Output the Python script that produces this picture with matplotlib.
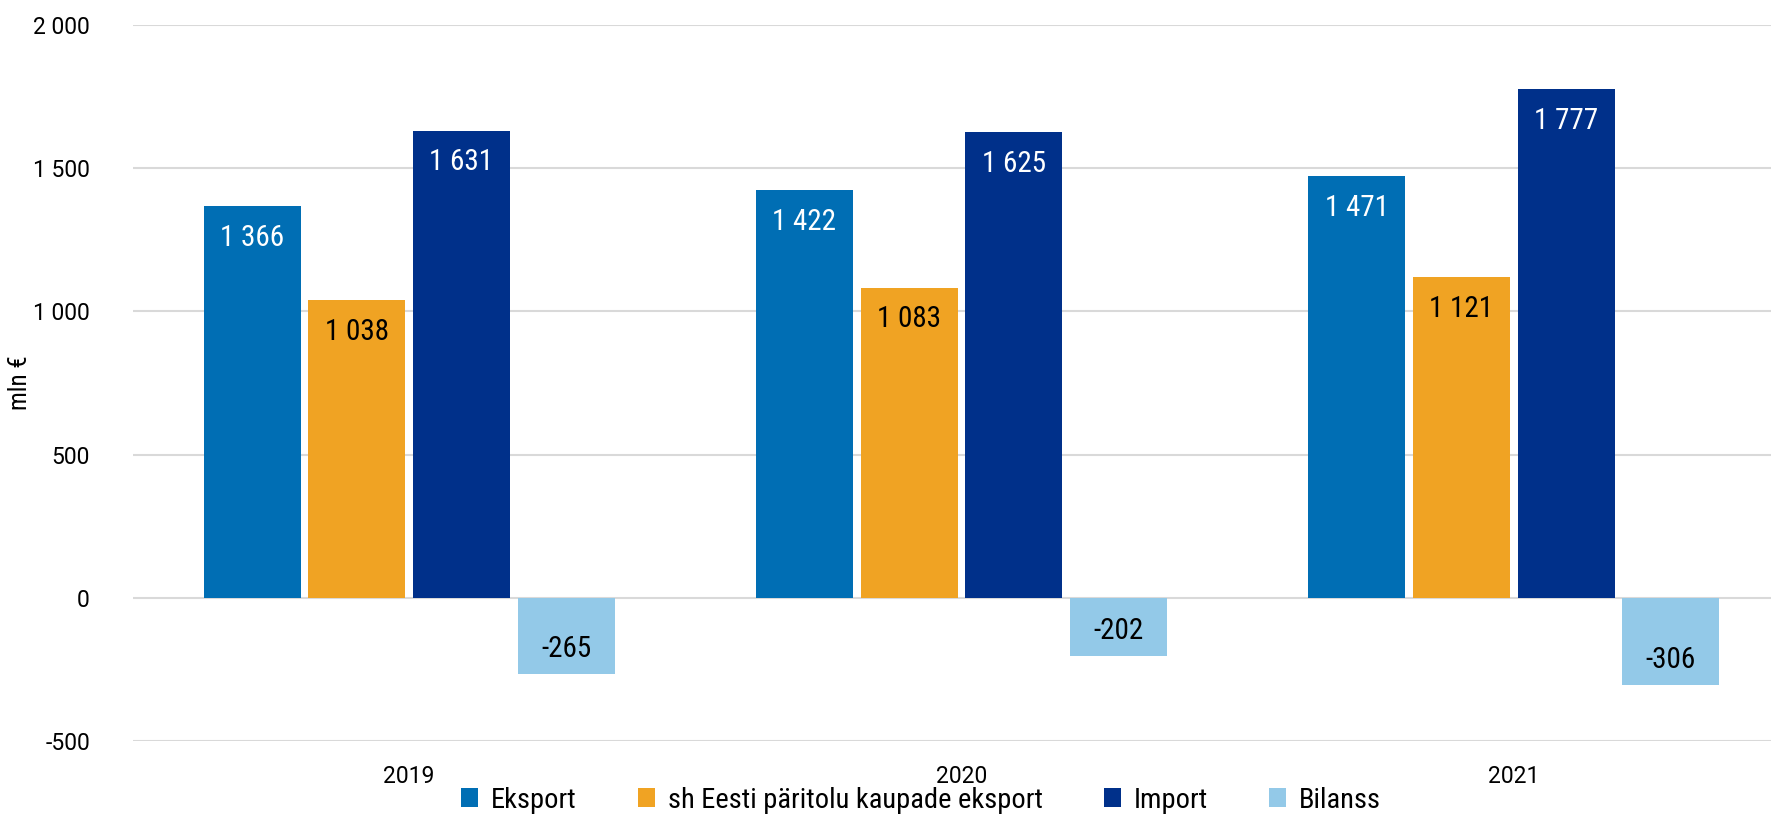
import matplotlib.pyplot as plt
import numpy as np

plt.rcParams["font.family"] = ["Roboto", "DejaVu Sans"]
narrow = ["Roboto Condensed", "Liberation Sans Narrow", "Roboto", "DejaVu Sans"]

years = ["2019", "2020", "2021"]
series = ["Eksport", "sh Eesti päritolu kaupade eksport", "Import", "Bilanss"]
eksport = [1366, 1422, 1471]
eesti = [1038, 1083, 1121]
imp = [1631, 1625, 1777]
bilanss = [-265, -202, -306]

colors = ["#006EB4", "#F0A323", "#00308A", "#93C9E8"]
label_colors = ["white", "black", "white", "black"]

fig = plt.figure(figsize=(17.71, 8.15), dpi=100)
ax = fig.add_axes([133 / 1771, 1 - 741 / 815, (1790 - 133) / 1771, (741 - 24.8) / 815])

x = np.arange(len(years))
step = 0.1895
width = 0.1756

def fmt(v):
    return f"{v:,}".replace(",", " ")

for i, (name, vals) in enumerate(zip(series, [eksport, eesti, imp, bilanss])):
    pos = x + (i - 1.5) * step
    ax.bar(pos, vals, width=width, color=colors[i], label=name, zorder=2)
    for p, v in zip(pos, vals):
        off = -23 if v > 0 else 18
        ax.annotate(fmt(v), (p, v), xytext=(0, off), textcoords="offset points",
                    ha="center", va="center", fontsize=21, family=narrow,
                    color=label_colors[i], zorder=3)

ax.set_xlim(-0.5, 2.5)
ax.set_ylim(-500, 2000)
ax.set_yticks(np.arange(-500, 2001, 500))
ax.set_yticklabels([fmt(v) for v in np.arange(-500, 2001, 500)])
ax.set_xticks(x)
ax.set_xticklabels(years)
ax.grid(axis="y", color="#D9D9D9", linewidth=1.5, zorder=0)
for s in ax.spines.values():
    s.set_visible(False)
ax.tick_params(axis="y", length=0, pad=31, labelsize=16.5)
ax.tick_params(axis="x", length=0, pad=17, labelsize=16.5)
ax.set_ylabel("mln €", fontsize=18, family=narrow)
ax.yaxis.set_label_coords(-0.061, 0.5)

fig.legend(loc="center", bbox_to_anchor=(921 / 1771, 1 - 800 / 815), ncol=4,
           frameon=False, prop={"family": narrow, "size": 20.5},
           handlelength=0.6, handleheight=0.6, handletextpad=0.45,
           columnspacing=2.15, borderpad=0)

fig.savefig("out.png", dpi=100)
